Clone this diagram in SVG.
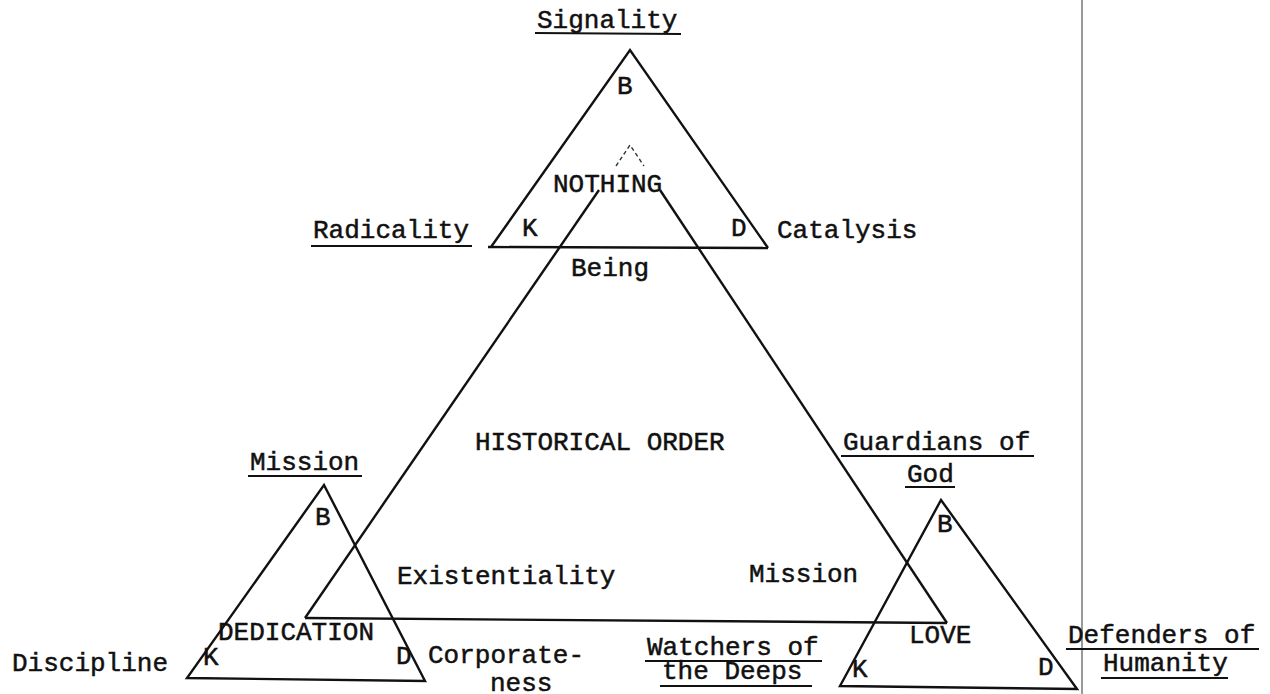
<svg xmlns="http://www.w3.org/2000/svg" width="1270" height="694" viewBox="0 0 1270 694">
<style>
.t{font-family:"Liberation Mono","DejaVu Sans Mono",monospace;font-size:26px;fill:#111;stroke:#111;stroke-width:0.5;}
.tri{fill:none;stroke:#111;stroke-width:2.4;stroke-linejoin:miter;}
.ln{fill:none;stroke:#111;stroke-width:2.4;}
.ul{stroke:#111;stroke-width:2.2;}
.faint{fill:none;stroke:#333;stroke-width:1.4;stroke-dasharray:4 3;}
</style>
<rect width="1270" height="694" fill="#fff"/>
<g id="divider">
<line x1="1082" y1="0" x2="1082" y2="694" stroke="#555" stroke-width="1.2"/>
</g>
<g id="top-triangle">
<polyline class="tri" points="491,247 630,50 768,248"/>
<line class="ln" x1="488" y1="247" x2="768" y2="248"/>
<text class="t" x="537" y="28">Signality</text>
<line class="ul" x1="535" y1="33" x2="681" y2="34"/>
<text class="t" x="617" y="94">B</text>
<text class="t" x="553" y="192">NOTHING</text>
<text class="t" x="522" y="236">K</text>
<text class="t" x="731" y="236">D</text>
<text class="t" x="313" y="238">Radicality</text>
<line class="ul" x1="311" y1="246" x2="472" y2="246"/>
<text class="t" x="777" y="238">Catalysis</text>
<text class="t" x="571" y="276">Being</text>
</g>
<g id="historical-order">
<polyline class="faint" points="616,166 630,145 644,166"/>
<line class="ln" x1="599" y1="190" x2="305" y2="618"/>
<line class="ln" x1="660" y1="190" x2="947" y2="623"/>
<line class="ln" x1="305" y1="618" x2="947" y2="623"/>
<text class="t" x="475" y="450">HISTORICAL ORDER</text>
<text class="t" x="397" y="584">Existentiality</text>
<text class="t" x="749" y="582">Mission</text>
</g>
<g id="mission-triangle">
<polygon class="tri" points="324,485 425,681 187,678"/>
<text class="t" x="250" y="470">Mission</text>
<line class="ul" x1="248" y1="476" x2="362" y2="476"/>
<text class="t" x="315" y="525">B</text>
<text class="t" x="218" y="640">DEDICATION</text>
<text class="t" x="203" y="665">K</text>
<text class="t" x="396" y="664">D</text>
<text class="t" x="12" y="671">Discipline</text>
<text class="t" x="428" y="663">Corporate-</text>
<text class="t" x="490" y="691">ness</text>
</g>
<g id="guardians-triangle">
<polygon class="tri" points="941,500 1077,689 840,686"/>
<text class="t" x="843" y="450">Guardians of</text>
<line class="ul" x1="841" y1="456" x2="1034" y2="456"/>
<text class="t" x="907" y="482">God</text>
<line class="ul" x1="905" y1="487" x2="955" y2="487"/>
<text class="t" x="937" y="532">B</text>
<text class="t" x="909" y="643">LOVE</text>
<text class="t" x="852" y="677">K</text>
<text class="t" x="1038" y="675">D</text>
<text class="t" x="647" y="655">Watchers of</text>
<line class="ul" x1="645" y1="661" x2="822" y2="661"/>
<text class="t" x="662" y="679">the Deeps</text>
<line class="ul" x1="660" y1="686" x2="812" y2="686"/>
<text class="t" x="1068" y="643">Defenders of</text>
<line class="ul" x1="1066" y1="649" x2="1259" y2="649"/>
<text class="t" x="1103" y="671">Humanity</text>
<line class="ul" x1="1101" y1="678" x2="1228" y2="678"/>
</g>
</svg>
